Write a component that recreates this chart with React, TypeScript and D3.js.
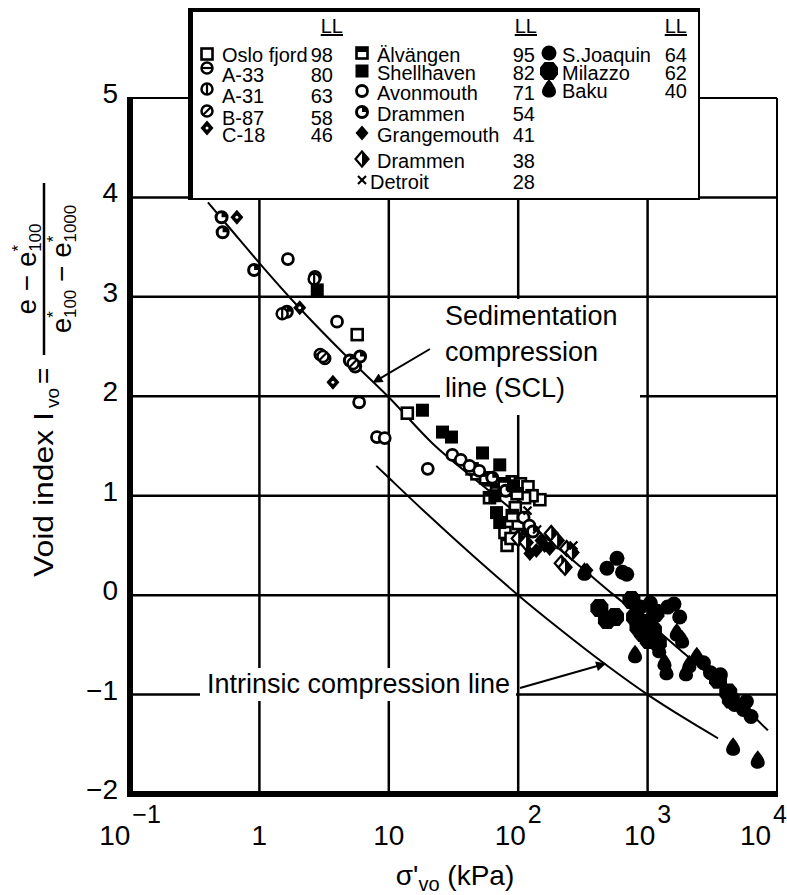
import React from "react";
import * as d3 from "d3";

const W = 787;
const H = 895;
const FONT = "'Liberation Sans', Arial, Helvetica, sans-serif";

// ---- axes ----
const xDecades = [0.1, 1, 10, 100, 1000, 10000];
const xTickBase = ["10", "1", "10", "10", "10", "10"];
const xTickSup = ["−1", "", "", "2", "3", "4"];
const yTicks = [5, 4, 3, 2, 1, 0, -1, -2];

// ---- curves ----
const sclSigma = [0.4, 0.6, 1, 2, 4.4, 10, 22, 50, 100, 300, 550, 1000, 1780, 4000, 8500];
const sclIv = [3.95, 3.68, 3.34, 2.9, 2.44, 1.99, 1.52, 1.13, 0.81, 0.29, 0.0, -0.27, -0.55, -0.95, -1.36];
const iclSigma = [8, 10, 20, 50, 100, 200, 500, 1000, 2000, 3500];
const iclIv = [1.3, 1.18, 0.81, 0.34, 0.0, -0.32, -0.72, -1.0, -1.25, -1.44];

// ---- data series [sigma'vo kPa, Ivo] ----
const osloFjord = [[5.7, 2.62], [13.9, 1.83], [48, 1.22], [60, 1.16], [90, 1.14], [104, 1.12], [119, 1.09], [147, 0.96], [128, 1.0], [112, 0.98], [95, 0.88], [79, 0.63], [82, 0.5], [88, 0.57], [100, 0.72]];
const a33 = [[2.95, 2.42], [3.2, 2.38]];
const a31 = [[2.65, 3.18], [1.5, 2.83]];
const b87 = [[3.1, 2.4], [5.3, 2.33]];
const c18 = [[0.67, 3.8], [2.05, 2.89], [3.7, 2.14]];
const alvangen = [[44, 1.27], [56, 1.18], [68, 1.06], [78, 1.12], [98, 1.02], [60, 0.98], [90, 0.8]];
const shellhaven = [[2.8, 3.07], [18.2, 1.86], [26, 1.64], [30.5, 1.59], [53, 1.43], [72, 1.31], [66, 1.0], [72, 0.73], [68, 0.83], [92, 1.1]];
const avonmouth = [[1.66, 3.38], [2.69, 3.2], [3.98, 2.75], [5.9, 1.94], [8.1, 1.59], [9.3, 1.58], [20, 1.27], [31, 1.41], [36, 1.36], [42, 1.3], [50, 1.25], [110, 0.78], [122, 0.7]];
const drammen54 = [[0.51, 3.8], [0.52, 3.65], [0.91, 3.27], [1.63, 2.85], [5.0, 2.36], [6.0, 2.4], [5.5, 2.3], [63, 1.18], [80, 1.05], [105, 0.6], [130, 0.64]];
const grangemouth = [[123, 0.42], [138, 0.45], [340, 0.25], [150, 0.55], [160, 0.5], [175, 0.47]];
const drammen38 = [[100, 0.57], [115, 0.53], [180, 0.62], [200, 0.55], [237, 0.47], [215, 0.32], [230, 0.28], [260, 0.43]];
const detroit = [[267, 0.5], [118, 0.85], [140, 0.66]];
const sJoaquin = [[485, 0.27], [580, 0.37], [640, 0.23], [690, 0.21], [1430, -0.12], [1600, -0.09], [1770, -0.22], [2700, -0.68], [3060, -0.78], [3650, -0.8], [4700, -1.1], [5500, -1.15], [6300, -1.22], [5800, -1.07], [880, -0.12], [1050, -0.08]];
const milazzo = [[424, -0.13], [485, -0.25], [560, -0.22], [750, -0.05], [800, -0.22], [850, -0.32], [920, -0.38], [980, -0.28], [1020, -0.45], [1100, -0.35], [1150, -0.18], [1200, -0.48], [4200, -0.98], [4400, -1.05], [3500, -0.85]];
const baku = [[325, 0.23], [800, -0.6], [1230, -0.55], [1350, -0.68], [1400, -0.77], [1680, -0.38], [1850, -0.45], [1980, -0.78], [2100, -0.7], [2400, -0.62], [4580, -1.53], [7100, -1.66]];

// ---- legend ----
const legendNames1 = ["Oslo fjord", "A-33", "A-31", "B-87", "C-18"];
const legendLL1 = ["98", "80", "63", "58", "46"];
const legendKinds1 = ["sqOpen", "circH", "circV", "circD", "diamCross"];
const legendNames2 = ["Älvängen", "Shellhaven", "Avonmouth", "Drammen", "Grangemouth", "Drammen", "Detroit"];
const legendLL2 = ["95", "82", "71", "54", "41", "38", "28"];
const legendKinds2 = ["sqNotch", "sqFill", "circOpen", "circNotch", "diamFill", "diamHalf", "x"];
const legendNames3 = ["S.Joaquin", "Milazzo", "Baku"];
const legendLL3 = ["64", "62", "40"];
const legendKinds3 = ["dotFill", "blob", "tear"];

const seriesList = [
  { data: osloFjord, kind: "sqOpen" },
  { data: alvangen, kind: "sqNotch" },
  { data: avonmouth, kind: "circOpen" },
  { data: drammen54, kind: "circNotch" },
  { data: a33, kind: "circH" },
  { data: a31, kind: "circV" },
  { data: b87, kind: "circD" },
  { data: c18, kind: "diamCross" },
  { data: shellhaven, kind: "sqFill" },
  { data: drammen38, kind: "diamHalf" },
  { data: grangemouth, kind: "diamFill" },
  { data: detroit, kind: "x" },
  { data: milazzo, kind: "blob" },
  { data: sJoaquin, kind: "dotFill" },
  { data: baku, kind: "tear" },
];

function Marker({ kind, cx, cy }: { kind: string; cx: number; cy: number }) {
  const t = `translate(${cx},${cy})`;
  const k = "#000";
  switch (kind) {
    case "sqOpen":
      return <rect transform={t} x={-5.5} y={-5.5} width={11} height={11} fill="#fff" stroke={k} strokeWidth={2.6} />;
    case "sqNotch":
      return (
        <g transform={t}>
          <rect x={-5.5} y={-5.5} width={11} height={11} fill="#fff" stroke={k} strokeWidth={2.6} />
          <rect x={-5.5} y={-5.5} width={11} height={4.5} fill={k} />
        </g>
      );
    case "sqFill":
      return <rect transform={t} x={-6.5} y={-6.5} width={13} height={13} fill={k} />;
    case "circOpen":
      return <circle transform={t} r={5.5} fill="#fff" stroke={k} strokeWidth={2.8} />;
    case "circH":
      return (
        <g transform={t}>
          <circle r={5.5} fill="#fff" stroke={k} strokeWidth={2.5} />
          <line x1={-5.5} x2={5.5} y1={0} y2={0} stroke={k} strokeWidth={2.2} />
        </g>
      );
    case "circV":
      return (
        <g transform={t}>
          <circle r={5.5} fill="#fff" stroke={k} strokeWidth={2.5} />
          <line x1={0} x2={0} y1={-5.5} y2={5.5} stroke={k} strokeWidth={2.2} />
        </g>
      );
    case "circD":
      return (
        <g transform={t}>
          <circle r={5.5} fill="#fff" stroke={k} strokeWidth={2.5} />
          <line x1={-4} x2={4} y1={4} y2={-4} stroke={k} strokeWidth={2.2} />
        </g>
      );
    case "circNotch":
      return (
        <g transform={t}>
          <circle r={5.5} fill="#fff" stroke={k} strokeWidth={3} />
          <path d="M0,0 L5.5,0 A5.5,5.5 0 0,0 0,-5.5 Z" fill={k} />
        </g>
      );
    case "diamFill":
      return <path transform={t} d="M0,-7.5 L6.5,0 L0,7.5 L-6.5,0 Z" fill={k} />;
    case "diamHalf":
      return (
        <g transform={t}>
          <path d="M0,-7.5 L6.5,0 L0,7.5 L-6.5,0 Z" fill="#fff" stroke={k} strokeWidth={2.2} />
          <path d="M0,-7.5 L6.5,0 L0,7.5 Z" fill={k} />
        </g>
      );
    case "diamCross":
      return (
        <g transform={t}>
          <path d="M0,-7.5 L6.5,0 L0,7.5 L-6.5,0 Z" fill={k} />
          <circle r={1.5} fill="#fff" />
        </g>
      );
    case "x":
      return (
        <g transform={t} stroke={k} strokeWidth={2.2}>
          <line x1={-4} y1={-4} x2={4} y2={4} />
          <line x1={-4} y1={4} x2={4} y2={-4} />
        </g>
      );
    case "dotFill":
      return <circle transform={t} r={7.5} fill={k} />;
    case "blob":
      return <path transform={t} d="M-4.5,-9 L4.5,-9 L9,-3.5 L9,3.5 L4.5,9 L-4.5,9 L-9,3.5 L-9,-3.5 Z" fill={k} />;
    case "tear":
      return <path transform={t} d="M0,-10 C3.5,-5.5 7,-1 7,2.5 C7,6.5 3.5,8.5 0,8.5 C-3.5,8.5 -7,6.5 -7,2.5 C-7,-1 -3.5,-5.5 0,-10 Z" fill={k} />;
    default:
      return null;
  }
}

export default function App() {
  const x = d3.scaleLog().domain([0.1, 10000]).range([130, 777]);
  const y = d3.scaleLinear().domain([-2, 5]).range([794, 98]);
  const line = d3
    .line<[number, number]>()
    .x((d) => x(d[0]))
    .y((d) => y(d[1]))
    .curve(d3.curveMonotoneX);
  const sclPts = sclSigma.map((s, i) => [s, sclIv[i]] as [number, number]);
  const iclPts = iclSigma.map((s, i) => [s, iclIv[i]] as [number, number]);

  const legX = 189, legY = 9, legW = 510, legH = 190;

  const sclTip = [x(7.6), y(2.14)];
  const iclTip = [x(470), y(-0.69)];

  return (
    <svg width={W} height={H} style={{ display: "block", position: "absolute", left: 0, top: 0, background: "#fff" }} fontFamily={FONT}>
      <defs>
        <marker id="ah" viewBox="0 0 10 10" refX={9} refY={5} markerWidth={14} markerHeight={10} markerUnits="userSpaceOnUse" orient="auto">
          <path d="M0,0 L10,5 L0,10 Z" fill="#000" />
        </marker>
      </defs>
      <rect width={W} height={H} fill="#fff" />

      {/* grid */}
      {xDecades.slice(1, -1).map((d) => (
        <line key={"gx" + d} x1={x(d)} x2={x(d)} y1={98} y2={794} stroke="#000" strokeWidth={2.5} />
      ))}
      {yTicks.slice(1, -1).map((d) => (
        <line key={"gy" + d} x1={130} x2={777} y1={y(d)} y2={y(d)} stroke="#000" strokeWidth={2.5} />
      ))}
      <line x1={130} x2={777} y1={98} y2={98} stroke="#000" strokeWidth={2} />
      <line x1={777} x2={777} y1={98} y2={796} stroke="#000" strokeWidth={2} />

      {/* annotation backgrounds */}
      <rect x={440} y={299} width={200} height={116} fill="#fff" />
      <rect x={200} y={668} width={316} height={33} fill="#fff" />

      <rect x={127} y={97} width={6} height={700} fill="#000" />
      <rect x={127} y={791} width={651} height={6} fill="#000" />

      {/* curves */}
      <path d={line(sclPts) || ""} fill="none" stroke="#000" strokeWidth={2} />
      <path d={line(iclPts) || ""} fill="none" stroke="#000" strokeWidth={2} />

      {/* data */}
      {seriesList.map((s, si) =>
        s.data.map((d, i) => <Marker key={si + "-" + i} kind={s.kind} cx={x(d[0])} cy={y(d[1])} />)
      )}

      {/* y tick labels */}
      {yTicks.map((d) => (
        <text key={"yt" + d} x={118} y={y(d) + 5} textAnchor="end" fontSize={28}>
          {d < 0 ? "−" + Math.abs(d) : d}
        </text>
      ))}
      {/* x tick labels */}
      {xDecades.map((d, i) => {
        const last = i === xDecades.length - 1;
        return (
          <text key={"xt" + d} x={last ? 787 : x(d)} y={845} textAnchor={last ? "end" : "middle"} fontSize={28}>
            {xTickBase[i]}
            {xTickSup[i] && (
              <tspan dy={-22} dx={2} fontSize={25}>
                {xTickSup[i]}
              </tspan>
            )}
          </text>
        );
      })}
      {/* x axis title */}
      <text x={455} y={885} textAnchor="middle" fontSize={28}>
        σ'
        <tspan fontSize={20} dy={6}>vo</tspan>
        <tspan dy={-6}> (kPa)</tspan>
      </text>

      {/* y axis title */}
      <g transform="translate(45,577) rotate(-90)" fontSize={28}>
        <text x={0} y={8} textLength={165} lengthAdjust="spacingAndGlyphs">Void index I</text>
        <text x={169} y={14} fontSize={19}>vo</text>
        <text x={193} y={8}>=</text>
        <line x1={222} x2={394} y1={-1} y2={-1} stroke="#000" strokeWidth={2.5} />
        <text x={308} y={-9} textAnchor="middle">
          e − e
          <tspan fontSize={17} dy={-12}>*</tspan>
          <tspan fontSize={17} dy={17} dx={-7}>100</tspan>
        </text>
        <text x={308} y={26} textAnchor="middle">
          e
          <tspan fontSize={17} dy={-12}>*</tspan>
          <tspan fontSize={17} dy={17} dx={-7}>100</tspan>
          <tspan dy={-5}> − e</tspan>
          <tspan fontSize={17} dy={-12}>*</tspan>
          <tspan fontSize={17} dy={17} dx={-7}>1000</tspan>
        </text>
      </g>

      {/* annotations */}
      <text fontSize={27}>
        <tspan x={445} y={325}>Sedimentation</tspan>
        <tspan x={445} y={361}>compression</tspan>
        <tspan x={445} y={397}>line (SCL)</tspan>
      </text>
      <line x1={430} y1={349} x2={sclTip[0]} y2={sclTip[1]} stroke="#000" strokeWidth={2} markerEnd="url(#ah)" />
      <text x={207} y={693} fontSize={27}>Intrinsic compression line</text>
      <line x1={520} y1={688} x2={iclTip[0]} y2={iclTip[1]} stroke="#000" strokeWidth={2} markerEnd="url(#ah)" />

      {/* legend */}
      <rect x={legX} y={legY} width={legW} height={legH} fill="#fff" stroke="#000" strokeWidth={2} />
      <line x1={legX} x2={legX + legW} y1={legY + 1} y2={legY + 1} stroke="#000" strokeWidth={4} />
      <line x1={legX + 1.5} x2={legX + 1.5} y1={legY} y2={legY + legH} stroke="#000" strokeWidth={5} />
      <g fontSize={20}>
        <text x={343} y={33} textAnchor="end" textDecoration="underline">LL</text>
        <text x={537} y={33} textAnchor="end" textDecoration="underline">LL</text>
        <text x={687} y={33} textAnchor="end" textDecoration="underline">LL</text>
        {legendNames1.map((n, i) => {
          const by = [62, 82, 103, 125, 142][i];
          return (
            <g key={"l1" + i}>
              <Marker kind={legendKinds1[i]} cx={207} cy={i === 0 ? by - 8 : by - 14} />
              <text x={222} y={by}>{n}</text>
              <text x={333} y={by} textAnchor="end">{legendLL1[i]}</text>
            </g>
          );
        })}
        {legendNames2.map((n, i) => {
          const by = [62, 80, 100, 121, 142, 168, 189][i];
          return (
            <g key={"l2" + i}>
              <Marker kind={legendKinds2[i]} cx={362} cy={by - 9} />
              <text x={i === 6 ? 370 : 377} y={by}>{n}</text>
              <text x={535} y={by} textAnchor="end">{legendLL2[i]}</text>
            </g>
          );
        })}
        {legendNames3.map((n, i) => {
          const by = [62, 80, 98][i];
          return (
            <g key={"l3" + i}>
              <Marker kind={legendKinds3[i]} cx={549} cy={by - 9} />
              <text x={562} y={by}>{n}</text>
              <text x={687} y={by} textAnchor="end">{legendLL3[i]}</text>
            </g>
          );
        })}
      </g>
    </svg>
  );
}
